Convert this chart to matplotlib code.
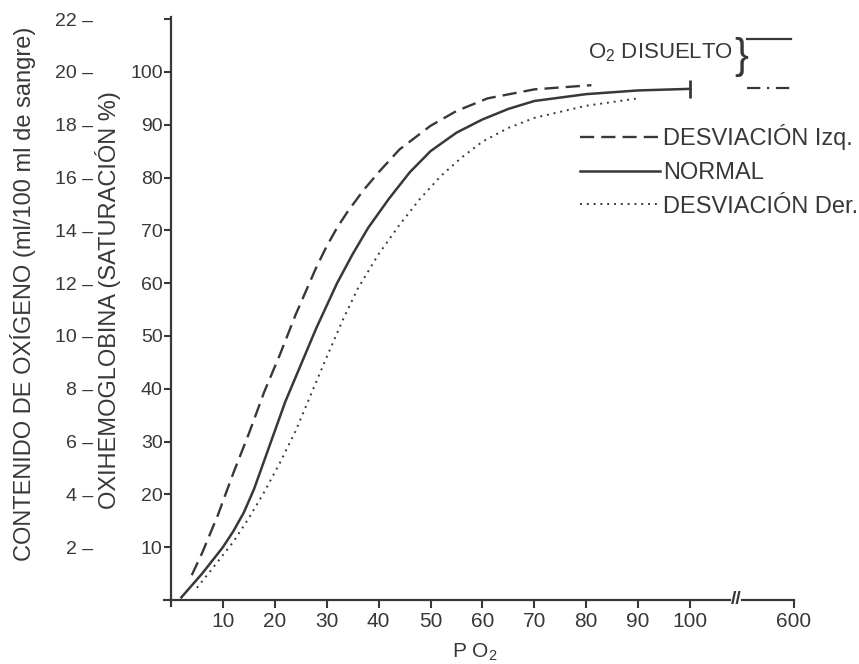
import matplotlib.pyplot as plt
from matplotlib.lines import Line2D

plt.rcParams['font.family'] = ['Liberation Sans', 'DejaVu Sans']
plt.rcParams['mathtext.fontset'] = 'custom'
plt.rcParams['mathtext.rm'] = 'Liberation Sans'

INK = '#383838'

# curvas de disociación: PO2 (mmHg) -> saturación (%)
po2_izq = [4, 6, 9, 12, 15, 18, 21, 22.4, 24, 26, 28, 30, 32, 34, 37, 40, 44, 50, 55, 61, 70, 81]
sat_izq = [4.7, 8.9, 16, 24, 31.5, 39.5, 46.5, 50, 54, 58.5, 63, 67, 70.5, 73.5, 77.5, 81,
           85.3, 89.8, 92.6, 95, 96.7, 97.5]

po2_normal = [2, 6, 10, 12, 14, 16, 18, 20, 22, 25, 28, 32, 35, 38, 42, 46, 50, 55, 60, 65, 70, 80, 90, 100]
sat_normal = [0.5, 5, 10, 13, 16.5, 21, 26.5, 32, 37.5, 44.5, 51.5, 60, 65.5, 70.5, 76, 81,
              85, 88.5, 91, 93, 94.5, 95.8, 96.5, 96.8]

po2_der = [5, 8, 12, 15, 18, 21, 24, 27, 30, 33, 36, 40, 44, 48, 52, 56, 60, 65, 70, 80, 90]
sat_der = [2.3, 6, 11, 15.5, 20.5, 26, 32, 39, 46, 52.8, 59, 65.5, 71, 76, 80.3, 83.8,
           86.8, 89.4, 91.3, 93.6, 95]

labels = ['DESVIACIÓN Izq.', 'NORMAL', 'DESVIACIÓN Der.']

x_ticks = [10, 20, 30, 40, 50, 60, 70, 80, 90, 100]
x_far_label = '600'
sat_ticks = [10, 20, 30, 40, 50, 60, 70, 80, 90, 100]
ml_ticks = [2, 4, 6, 8, 10, 12, 14, 16, 18, 20, 22]

# layout of the broken axis
X_FAR = 120          # where 600 sits after the break
X_BREAK = (107.7, 110.0)
Y_TOP = 110.4

fig = plt.figure(figsize=(8.59, 6.64), dpi=100)
ax = fig.add_axes([0.19, 0.0845, 0.7462, 0.8946])
ax.set_xlim(-1.5, 122)
ax.set_ylim(-1.5, 111)

l1, = ax.plot(po2_izq, sat_izq, color=INK, lw=1.7, ls=(0, (6, 3)))
l2, = ax.plot(po2_normal, sat_normal, color=INK, lw=1.8)
l3, = ax.plot(po2_der, sat_der, color=INK, lw=1.4, ls=(0, (1, 2.5)))
ax.plot(po2_normal[-1], sat_normal[-1], marker='|', ms=13, mew=2, color=INK)

for s in ['top', 'right']:
    ax.spines[s].set_visible(False)
for s in ['left', 'bottom']:
    ax.spines[s].set_color(INK)
    ax.spines[s].set_linewidth(1.6)
    ax.spines[s].set_position(('data', 0))
ax.spines['left'].set_bounds(-1.1, Y_TOP)
ax.spines['bottom'].set_bounds(-1.3, X_BREAK[0])
ax.plot([X_BREAK[1], X_FAR], [0, 0], color=INK, lw=1.6, clip_on=False)
ax.text(sum(X_BREAK) / 2, 0, '//', ha='center', va='center', fontsize=14,
        fontweight='bold', color=INK)

ax.set_xticks(x_ticks + [X_FAR], labels=[str(v) for v in x_ticks] + [x_far_label])
ax.tick_params(axis='x', length=6, width=1.5, pad=3, labelsize=15,
               colors=INK)
ax.set_yticks(sat_ticks + [110], labels=[str(v) for v in sat_ticks] + [''])
ax.tick_params(axis='y', length=5, width=1.5, pad=1, labelsize=14, colors=INK)

# escala exterior: ml O2 / 100 ml (20 ml = 100 %)
sec = ax.secondary_yaxis(-0.1095, functions=(lambda s: s / 5, lambda m: m * 5))
sec.set_yticks(ml_ticks, labels=[f"{v} –" for v in ml_ticks])
sec.spines['left'].set_visible(False)
sec.tick_params(length=0, pad=0, labelsize=14, colors=INK)

fig.text(23 / 859, 1 - 294 / 664, 'CONTENIDO DE OXÍGENO (ml/100 ml de sangre)',
         rotation=90, ha='center', va='center', fontsize=17, color=INK)
fig.text(108 / 859, 1 - 300 / 664, 'OXIHEMOGLOBINA (SATURACIÓN %)',
         rotation=90, ha='center', va='center', fontsize=17, color=INK)
fig.text(475 / 859, 1 - 652 / 664, 'P O$_2$', ha='center', va='center',
         fontsize=15, color=INK)

leg = ax.legend([l1, l2, l3], labels, loc='upper left',
                bbox_to_anchor=(580 / 859, 1 - 124 / 664),
                bbox_transform=fig.transFigure, frameon=False, fontsize=17,
                handlelength=3.4, handletextpad=0.1, labelspacing=0.5,
                borderpad=0, borderaxespad=0, labelcolor=INK)
ax.add_artist(leg)

fig.text(588 / 859, 1 - 53 / 664, 'O$_2$ DISUELTO', ha='left', va='center',
         fontsize=16, color=INK)
fig.text(741 / 859, 1 - 57 / 664, '}', ha='center', va='center',
         fontsize=30, color=INK)
dis = [Line2D([], [], color=INK, lw=1.6),
       Line2D([], [], color=INK, lw=1.6, ls=(0, (6, 3, 1, 3)))]
ax.legend(dis, [' ', ' '], loc='upper left',
          bbox_to_anchor=(747 / 859, 1 - 31 / 664),
          bbox_transform=fig.transFigure, frameon=False, fontsize=16,
          handlelength=2.0, handletextpad=0, labelspacing=1.27,
          borderpad=0, borderaxespad=0)

fig.savefig('out.png', dpi=100, facecolor='white')
